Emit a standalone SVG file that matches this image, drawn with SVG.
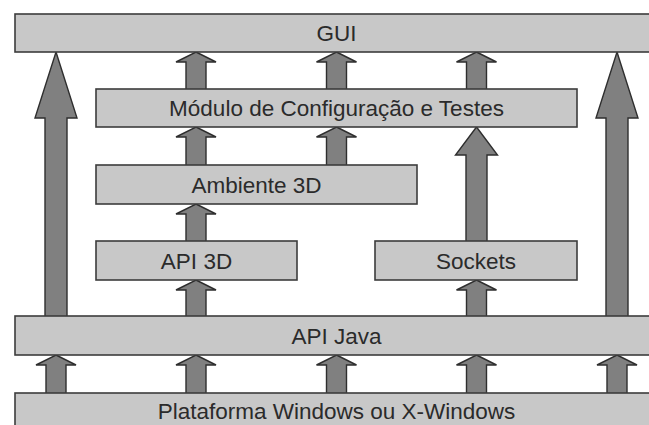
<svg xmlns="http://www.w3.org/2000/svg" width="649" height="425" viewBox="0 0 649 425">
  <style>
    .box { fill: #c8c8c8; stroke: #3c3c3c; stroke-width: 1.6; }
    .arrow { fill: #808080; stroke: #2e2e2e; stroke-width: 1.4; stroke-linejoin: miter; }
    .label { font-family: "Liberation Sans", Arial, sans-serif; font-size: 22.5px; fill: #2b2b2b; text-anchor: middle; }
  </style>
  <defs>
    <!-- short block arrow, origin at the tip -->
    <path id="small-arrow" class="arrow" d="M0,0 L20,10 L10,10 L10,39 L-10,39 L-10,10 L-20,10 Z"/>
  </defs>
  <rect width="649" height="425" fill="#ffffff"/>

  <g id="connectors">
    <!-- Módulo -> GUI -->
    <use href="#small-arrow" x="196" y="52"/>
    <use href="#small-arrow" x="336.5" y="52"/>
    <use href="#small-arrow" x="476.5" y="52"/>
    <!-- Ambiente 3D -> Módulo -->
    <use href="#small-arrow" x="196" y="127"/>
    <use href="#small-arrow" x="336.5" y="127"/>
    <!-- API 3D -> Ambiente 3D -->
    <use href="#small-arrow" x="196" y="204"/>
    <!-- API Java -> API 3D / Sockets -->
    <use href="#small-arrow" x="196" y="280"/>
    <use href="#small-arrow" x="476.5" y="280"/>
    <!-- Plataforma -> API Java -->
    <use href="#small-arrow" x="56" y="355"/>
    <use href="#small-arrow" x="196" y="355"/>
    <use href="#small-arrow" x="336.5" y="355"/>
    <use href="#small-arrow" x="476.5" y="355"/>
    <use href="#small-arrow" x="617" y="355"/>
    <!-- API Java -> GUI (long arrows) -->
    <polygon class="arrow" points="56,52 77,118 67,118 67,317 45,317 45,118 35,118"/>
    <polygon class="arrow" points="617,52 638,118 628,118 628,317 606,317 606,118 596,118"/>
    <!-- Sockets -> Módulo -->
    <polygon class="arrow" points="476.5,127 497.5,155 487,155 487,242 466,242 466,155 455.5,155"/>
  </g>

  <g id="gui">
    <rect class="box" x="15" y="14" width="650" height="38"/>
    <text class="label" x="336.5" y="41">GUI</text>
  </g>
  <g id="modulo">
    <rect class="box" x="96" y="89" width="481" height="38"/>
    <text class="label" x="336.5" y="116">Módulo de Configuração e Testes</text>
  </g>
  <g id="ambiente3d">
    <rect class="box" x="96" y="165" width="321" height="39"/>
    <text class="label" x="256.5" y="192.5">Ambiente 3D</text>
  </g>
  <g id="api3d">
    <rect class="box" x="96" y="241" width="201" height="39"/>
    <text class="label" x="196.5" y="268.5">API 3D</text>
  </g>
  <g id="sockets">
    <rect class="box" x="375" y="241" width="202" height="39"/>
    <text class="label" x="476" y="268.5">Sockets</text>
  </g>
  <g id="apijava">
    <rect class="box" x="15" y="316" width="650" height="39"/>
    <text class="label" x="336.5" y="343.5">API Java</text>
  </g>
  <g id="plataforma">
    <rect class="box" x="15" y="393" width="650" height="40"/>
    <text class="label" x="336.5" y="418.5">Plataforma Windows ou X-Windows</text>
  </g>
</svg>
